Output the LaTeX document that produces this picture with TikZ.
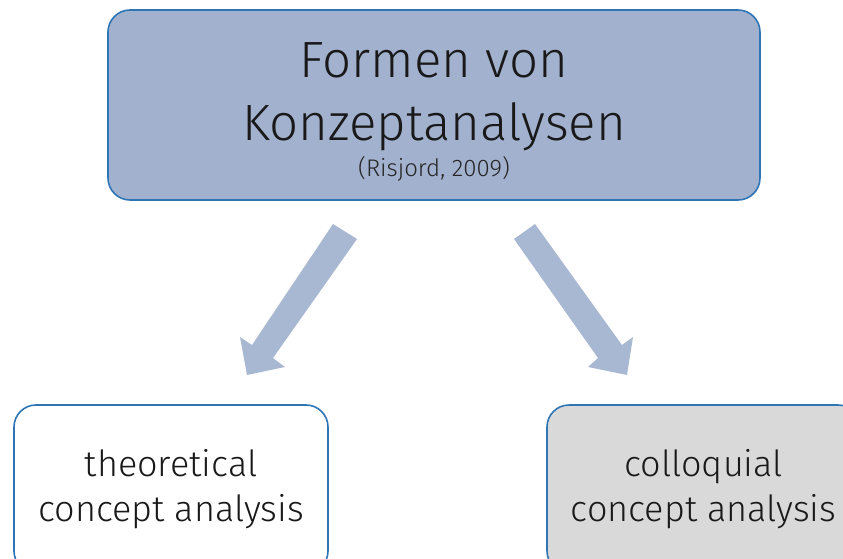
\documentclass[tikz,border=0pt]{standalone}
\usepackage{fontspec}
\setmainfont{Fira Sans Light}
\definecolor{topfill}{HTML}{A2B1CE}
\definecolor{bordblue}{HTML}{2E75B6}
\definecolor{arrowfill}{HTML}{A9B8D2}
\definecolor{greyfill}{HTML}{D9D9D9}
\begin{document}
\begin{tikzpicture}[x=1pt,y=-1pt,
  boxstyle/.style={draw=bordblue,line width=1.6pt,rounded corners=22pt,align=center,text=black!90,inner sep=0pt},
  bigtext/.style={font=\fontsize{51}{62}\selectfont,text=black!90,inner sep=0pt,anchor=base},
  smalltext/.style={font=\fontsize{24}{28}\selectfont,text=black!85,inner sep=0pt,anchor=base},
  arrowshape/.style={fill=arrowfill,draw=none}]
\useasboundingbox (0,0) rectangle (843,559);
\clip (0,0) rectangle (843,559);
\node[boxstyle,fill=topfill,minimum width=652pt,minimum height=190pt] (top) at (434,105) {};
\node[bigtext] (t1) at (434,78) {Formen von};
\node[bigtext] (t2) at (434,140) {Konzeptanalysen};
\node[smalltext] (t3) at (434,176) {(Risjord, 2009)};
\node[boxstyle,fill=white,minimum width=314pt,minimum height=168pt,font=\fontsize{36}{45}\selectfont] (theo) at (171,489)
  {theoretical\\ concept analysis};
\node[boxstyle,fill=greyfill,minimum width=313pt,minimum height=168pt,font=\fontsize{36}{45}\selectfont] (coll) at (703.5,489)
  {colloquial\\ concept analysis};
\coordinate (la1) at (333,224);
\coordinate (la2) at (357,239);
\coordinate (la3) at (273,358);
\coordinate (la4) at (285,367);
\coordinate (la5) at (247,375);
\coordinate (la6) at (240,337);
\coordinate (la7) at (252,345);
\fill[arrowshape] (la1) -- (la2) -- (la3) -- (la4) -- (la5) -- (la6) -- (la7) -- cycle;
\coordinate (ra1) at (535,224);
\coordinate (ra2) at (514,239);
\coordinate (ra3) at (598,358);
\coordinate (ra4) at (588,367);
\coordinate (ra5) at (627,375);
\coordinate (ra6) at (633,337);
\coordinate (ra7) at (622,345);
\fill[arrowshape] (ra1) -- (ra2) -- (ra3) -- (ra4) -- (ra5) -- (ra6) -- (ra7) -- cycle;
\end{tikzpicture}
\end{document}
